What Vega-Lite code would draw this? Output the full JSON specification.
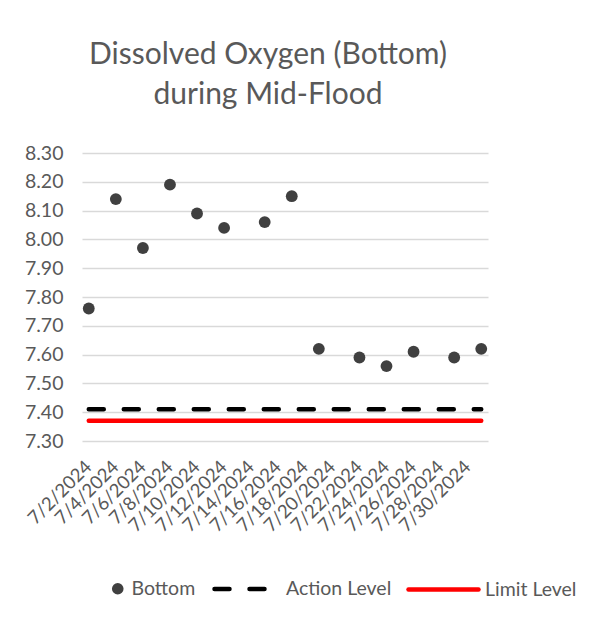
{
  "$schema": "https://vega.github.io/schema/vega-lite/v6.json",
  "width": 406,
  "height": 288,
  "padding": {"left": 24, "top": 40, "right": 10, "bottom": 10},
  "background": "white",
  "title": {
    "text": ["Dissolved Oxygen (Bottom)", "during Mid-Flood"],
    "font": "Lato",
    "fontSize": 30,
    "fontWeight": "normal",
    "color": "#595959",
    "lineHeight": 40,
    "anchor": "middle",
    "frame": "group",
    "dx": -17,
    "offset": 33
  },
  "data": {
    "values": [
      {"date": "7/2/2024", "Bottom": 7.76, "Action": 7.41, "Limit": 7.37},
      {"date": "7/4/2024", "Bottom": 8.14, "Action": 7.41, "Limit": 7.37},
      {"date": "7/6/2024", "Bottom": 7.97, "Action": 7.41, "Limit": 7.37},
      {"date": "7/8/2024", "Bottom": 8.19, "Action": 7.41, "Limit": 7.37},
      {"date": "7/10/2024", "Bottom": 8.09, "Action": 7.41, "Limit": 7.37},
      {"date": "7/12/2024", "Bottom": 8.04, "Action": 7.41, "Limit": 7.37},
      {"date": "7/15/2024", "Bottom": 8.06, "Action": 7.41, "Limit": 7.37},
      {"date": "7/17/2024", "Bottom": 8.15, "Action": 7.41, "Limit": 7.37},
      {"date": "7/19/2024", "Bottom": 7.62, "Action": 7.41, "Limit": 7.37},
      {"date": "7/22/2024", "Bottom": 7.59, "Action": 7.41, "Limit": 7.37},
      {"date": "7/24/2024", "Bottom": 7.56, "Action": 7.41, "Limit": 7.37},
      {"date": "7/26/2024", "Bottom": 7.61, "Action": 7.41, "Limit": 7.37},
      {"date": "7/29/2024", "Bottom": 7.59, "Action": 7.41, "Limit": 7.37},
      {"date": "7/31/2024", "Bottom": 7.62, "Action": 7.41, "Limit": 7.37}
    ]
  },
  "encoding": {
    "x": {
      "field": "date",
      "type": "ordinal",
      "sort": null,
      "scale": {
        "type": "point",
        "padding": 0.5,
        "domain": ["7/2/2024","7/3/2024","7/4/2024","7/5/2024","7/6/2024","7/7/2024","7/8/2024","7/9/2024","7/10/2024","7/11/2024","7/12/2024","7/13/2024","7/14/2024","7/15/2024","7/16/2024","7/17/2024","7/18/2024","7/19/2024","7/20/2024","7/21/2024","7/22/2024","7/23/2024","7/24/2024","7/25/2024","7/26/2024","7/27/2024","7/28/2024","7/29/2024","7/30/2024","7/31/2024"]
      },
      "axis": {
        "title": null,
        "values": ["7/2/2024","7/4/2024","7/6/2024","7/8/2024","7/10/2024","7/12/2024","7/14/2024","7/16/2024","7/18/2024","7/20/2024","7/22/2024","7/24/2024","7/26/2024","7/28/2024","7/30/2024"],
        "labelAngle": -45,
        "labelFont": "Lato",
        "labelFontSize": 18.5,
        "labelColor": "#595959",
        "labelPadding": 16,
        "labelOffset": -7,
        "domain": false,
        "ticks": false,
        "tickSize": 0,
        "grid": false,
        "labelOverlap": false
      }
    }
  },
  "layer": [
    {
      "mark": {"type": "point", "filled": true, "color": "#404040", "size": 140, "opacity": 1},
      "encoding": {
        "y": {
          "field": "Bottom",
          "type": "quantitative",
          "scale": {"domain": [7.3, 8.3], "zero": false, "nice": false},
          "axis": {
            "title": null,
            "values": [7.3, 7.4, 7.5, 7.6, 7.7, 7.8, 7.9, 8.0, 8.1, 8.2, 8.3],
            "format": ".2f",
            "labelFont": "Lato",
            "labelFontSize": 19.5,
            "labelColor": "#595959",
            "labelPadding": 19,
            "labelOverlap": false,
            "domain": false,
            "ticks": false,
            "tickSize": 0,
            "grid": true,
            "gridColor": "#d9d9d9",
            "gridWidth": 1.3
          }
        },
        "shape": {
          "datum": "Bottom",
          "scale": {"domain": ["Bottom"], "range": ["circle"]},
          "legend": {
            "title": null,
            "orient": "none",
            "legendX": 26,
            "legendY": 426,
            "padding": 0,
            "symbolFillColor": "#404040",
            "symbolStrokeWidth": 0,
            "symbolSize": 135,
            "labelOffset": 4
          }
        }
      }
    },
    {
      "mark": {"type": "line", "color": "black", "strokeWidth": 4.5, "strokeCap": "round"},
      "encoding": {
        "y": {
          "field": "Action",
          "type": "quantitative",
          "scale": {"domain": [7.3, 8.3], "zero": false, "nice": false},
          "axis": {
            "title": null,
            "values": [7.3, 7.4, 7.5, 7.6, 7.7, 7.8, 7.9, 8.0, 8.1, 8.2, 8.3],
            "format": ".2f",
            "labelFont": "Lato",
            "labelFontSize": 19.5,
            "labelColor": "#595959",
            "labelPadding": 19,
            "labelOverlap": false,
            "domain": false,
            "ticks": false,
            "tickSize": 0,
            "grid": true,
            "gridColor": "#d9d9d9",
            "gridWidth": 1.3
          }
        },
        "strokeDash": {
          "datum": "Action Level",
          "scale": {"domain": ["Action Level"], "range": [[15, 20]]},
          "legend": {
            "title": null,
            "orient": "none",
            "legendX": 130,
            "legendY": 403,
            "padding": 0,
            "symbolType": "stroke",
            "symbolStrokeColor": "black",
            "symbolStrokeWidth": 4.5,
            "symbolSize": 3721,
            "labelOffset": 8,
            "encode": {
              "symbols": {"update": {"strokeDash": {"value": [19, 22.5]}, "strokeCap": {"value": "round"}}}
            }
          }
        }
      }
    },
    {
      "mark": {"type": "line", "strokeWidth": 4.5, "strokeCap": "round"},
      "encoding": {
        "y": {
          "field": "Limit",
          "type": "quantitative",
          "scale": {"domain": [7.3, 8.3], "zero": false, "nice": false},
          "axis": {
            "title": null,
            "values": [7.3, 7.4, 7.5, 7.6, 7.7, 7.8, 7.9, 8.0, 8.1, 8.2, 8.3],
            "format": ".2f",
            "labelFont": "Lato",
            "labelFontSize": 19.5,
            "labelColor": "#595959",
            "labelPadding": 19,
            "labelOverlap": false,
            "domain": false,
            "ticks": false,
            "tickSize": 0,
            "grid": true,
            "gridColor": "#d9d9d9",
            "gridWidth": 1.3
          }
        },
        "color": {
          "datum": "Limit Level",
          "scale": {"domain": ["Limit Level"], "range": ["#ff0000"]},
          "legend": {
            "title": null,
            "orient": "none",
            "legendX": 324,
            "legendY": 399,
            "padding": 0,
            "symbolType": "stroke",
            "symbolStrokeWidth": 4.5,
            "symbolSize": 4900,
            "labelOffset": 4,
            "encode": {
              "symbols": {"update": {"strokeCap": {"value": "round"}}}
            }
          }
        }
      }
    }
  ],
  "config": {
    "view": {"stroke": null},
    "legend": {
      "labelFont": "Lato",
      "labelFontSize": 19.5,
      "labelColor": "#595959"
    }
  }
}
